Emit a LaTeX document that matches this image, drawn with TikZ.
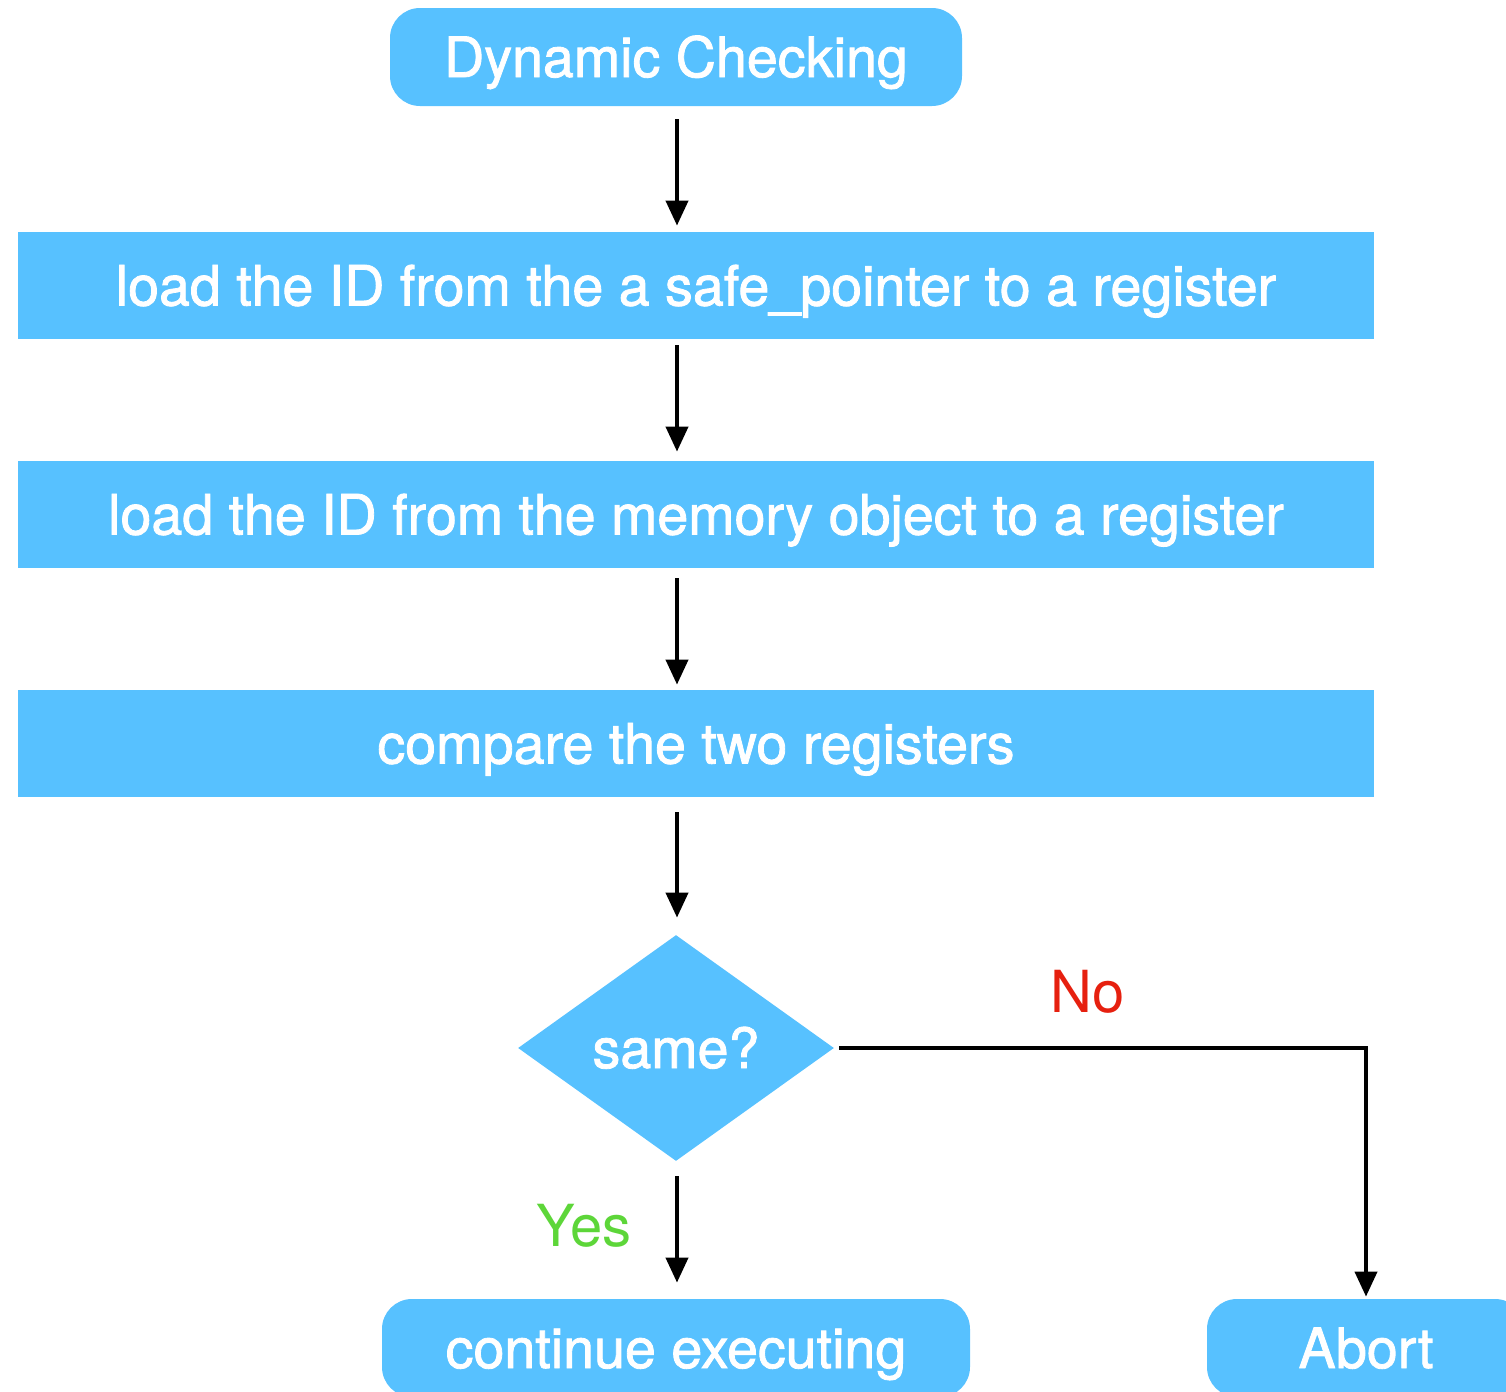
\documentclass[tikz,border=0pt]{standalone}
\usepackage{fontspec}
\setmainfont{TeX Gyre Heros}[FakeBold=1.5]
\newfontfamily\labelfont{TeX Gyre Heros}
\usetikzlibrary{shapes.geometric,arrows.meta}
\definecolor{boxblue}{RGB}{87,193,255}
\definecolor{nored}{RGB}{230,32,15}
\definecolor{yesgreen}{RGB}{93,214,57}
\tikzset{
  base/.style={fill=boxblue, draw=none, text=white, font=\fontsize{27.8}{32}\selectfont, inner sep=0pt, text height=20pt, text depth=0pt},
  roundbox/.style={base, rectangle, rounded corners=15pt, minimum height=49pt},
  stepbox/.style={base, rectangle, minimum width=678pt, minimum height=53.5pt},
  decision/.style={base, diamond, minimum width=158pt, minimum height=113pt, aspect=1.4},
  conn/.style={line width=2pt, -{Triangle[length=12.5pt, width=11pt]}},
  lbl/.style={font=\labelfont\fontsize{29}{32}\selectfont, inner sep=0pt}
}
\begin{document}
\begin{tikzpicture}[x=0.5pt, y=-0.5pt]
\useasboundingbox (0,0) rectangle (1506,1392);
\node[roundbox, minimum width=286pt] (start) at (676,57) {Dynamic Checking};
\node[stepbox] (s1) at (696,285.5) {load the ID from the a safe\_pointer to a register};
\node[stepbox] (s2) at (696,514.5) {load the ID from the memory object to a register};
\node[stepbox] (s3) at (696,743.5) {compare the two registers};
\node[decision] (dec) at (676,1048) {same?};
\node[roundbox, minimum width=294pt] (cont) at (676,1348) {continue executing};
\node[roundbox, minimum width=159pt] (abort) at (1366,1348) {Abort};
\coordinate (c1) at (677,0);
\draw[conn, shorten <=6.5pt, shorten >=3pt] (start.south -| c1) -- (s1.north -| c1);
\draw[conn, shorten <=3pt, shorten >=4.5pt] (s1.south -| c1) -- (s2.north -| c1);
\draw[conn, shorten <=5pt, shorten >=2.5pt] (s2.south -| c1) -- (s3.north -| c1);
\draw[conn, shorten <=7.5pt, shorten >=8.5pt] (s3.south -| c1) -- (dec.north -| c1);
\draw[conn, shorten <=7.5pt, shorten >=8pt] (dec.south -| c1) -- (cont.north -| c1);
\draw[conn, shorten <=2.5pt, shorten >=1pt] (dec.east) -| (abort.north);
\node[lbl, text=nored] (no) at (1088,992) {No};
\node[lbl, text=yesgreen] (yes) at (584,1226) {Yes};
\end{tikzpicture}
\end{document}
